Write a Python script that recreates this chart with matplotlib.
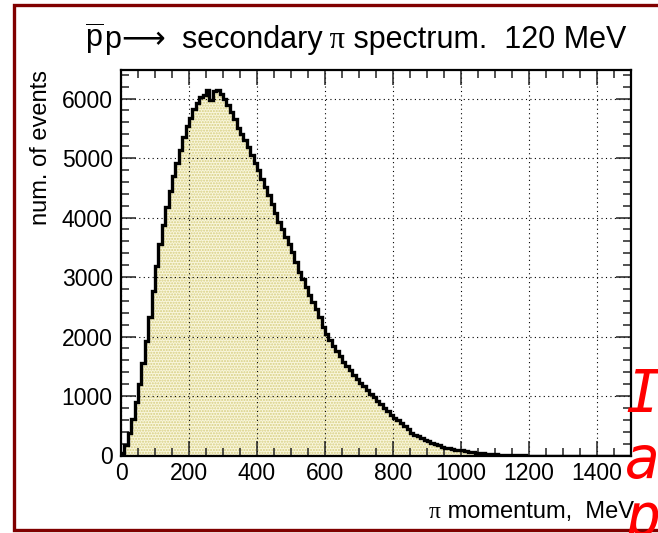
import numpy as np
import matplotlib
matplotlib.use("Agg")
import matplotlib.pyplot as plt
from matplotlib.lines import Line2D
from matplotlib.ticker import MultipleLocator

plt.rcParams['font.family'] = ['Liberation Sans', 'DejaVu Sans']
plt.rcParams['mathtext.fontset'] = 'custom'
plt.rcParams['mathtext.rm'] = 'Liberation Sans'
plt.rcParams['mathtext.sf'] = 'Liberation Sans'
plt.rcParams['mathtext.it'] = 'Liberation Sans:italic'

# ---- data (10 MeV bins, 0..1500 MeV) ----
x_min, x_max = 0, 1500
counts = [
    50, 170, 380, 620, 900, 1200, 1550, 1920, 2320, 2760,
    3180, 3560, 3880, 4180, 4450, 4700, 4920, 5140, 5350, 5540,
    5680, 5820, 5930, 6020, 6060, 6150, 5980, 6120, 6150, 6080,
    5990, 5900, 5780, 5650, 5500, 5400, 5300, 5180, 5050, 4920,
    4800, 4650, 4520, 4380, 4230, 4070, 3930, 3800, 3680, 3560,
    3420, 3250, 3080, 2960, 2830, 2700, 2580, 2460, 2320, 2160,
    2040, 1940, 1840, 1750, 1670, 1580, 1500, 1430, 1360, 1290,
    1220, 1160, 1100, 1040, 980, 920, 860, 800, 740, 680,
    630, 590, 540, 490, 450, 380, 350, 320, 290, 265,
    240, 210, 190, 170, 150, 130, 120, 110, 100, 95,
    85, 75, 65, 58, 50, 44, 38, 33, 28, 23,
    18, 14, 10, 7, 5, 3, 2, 1, 1, 0,
    0, 0, 0, 0, 0, 0, 0, 0, 0, 0,
    0, 0, 0, 0, 0, 0, 0, 0, 0, 0,
    0, 0, 0, 0, 0, 0, 0, 0, 0, 0,
]
edges = np.linspace(x_min, x_max, len(counts) + 1)
x_ticks = [0, 200, 400, 600, 800, 1000, 1200, 1400]
y_ticks = [0, 1000, 2000, 3000, 4000, 5000, 6000]
y_max = 6480

SANS = ['Liberation Sans', 'DejaVu Sans']
SERIF = ['Liberation Serif', 'DejaVu Serif']
title_pieces = [(r"$\overline{\mathrm{p}}$", SANS), ("p", SANS), ("⟶", ['DejaVu Sans']),
                ("  secondary", SANS), (" π", SERIF), (" spectrum.  120 MeV", SANS)]
xlabel_pieces = [("π", SERIF), (" momentum,  MeV", SANS)]
ylabel = "num. of events"

W, H = 658, 533
fig = plt.figure(figsize=(W / 100, H / 100), dpi=100)
L, R, T, B = 121, 631, 70, 455.5
ax = fig.add_axes([L / W, 1 - B / H, (R - L) / W, (B - T) / H])

ax.stairs(counts, edges, fill=True, facecolor='#f9f6dc', edgecolor='#d6ce80',
          hatch='......', linewidth=0, zorder=1)
ax.stairs(counts, edges, fill=False, color='black', linewidth=2.4, zorder=3)

ax.set_xlim(x_min, x_max)
ax.set_ylim(0, y_max)
ax.set_xticks(x_ticks)
ax.set_yticks(y_ticks)
ax.xaxis.set_minor_locator(MultipleLocator(50))
ax.yaxis.set_minor_locator(MultipleLocator(200))
ax.tick_params(which='both', direction='in', top=True, right=True,
               labelsize=16.5, width=1.1, color='#222222')
ax.tick_params(which='major', length=10.5)
ax.tick_params(which='minor', length=5.5)
ax.tick_params(axis='x', which='major', pad=5)
ax.tick_params(axis='y', which='major', pad=6)
ax.grid(True, which='major', color='black', linestyle=(0, (1, 3)), linewidth=0.8, zorder=2)
ax.set_axisbelow(False)
for s in ax.spines.values():
    s.set_linewidth(1.6)
    s.set_zorder(4)

renderer = fig.canvas.get_renderer()


def chain_text(pieces, x_px, y_px, size, align='left'):
    texts, widths = [], []
    for s, fam in pieces:
        t = fig.text(0, 1 - y_px / H, s, fontsize=size, family=fam,
                     ha='left', va='baseline')
        texts.append(t)
        widths.append(t.get_window_extent(renderer).width)
    cur = x_px if align == 'left' else x_px - sum(widths)
    for t, w in zip(texts, widths):
        t.set_x(cur / W)
        cur += w


chain_text(title_pieces, 85, 48, 22)
chain_text(xlabel_pieces, 634, 518, 17, align='right')
fig.text(41 / W, 1 - 70 / H, ylabel, fontsize=17, rotation=90, ha='center', va='top')

# dark red frame (right side cut off)
frame = Line2D([700 / W, 13.5 / W, 13.5 / W, 700 / W],
               [1 - 5 / H, 1 - 5 / H, 1 - 530 / H, 1 - 530 / H],
               transform=fig.transFigure, color='#800000', linewidth=2.4,
               solid_joinstyle='miter')
fig.add_artist(frame)

# red handwritten-like text partially cut at the right edge
for ch, yb in [("I", 412), ("a", 478), ("p", 536)]:
    fig.text(625 / W, 1 - yb / H, ch, fontsize=42, color='#ff0000',
             family=['DejaVu Sans Mono'], style='oblique',
             ha='left', va='baseline')

fig.savefig("out.png", dpi=100)
